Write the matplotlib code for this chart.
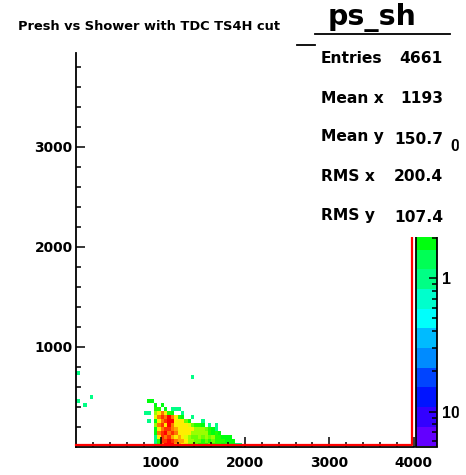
import colorsys
import numpy as np
import matplotlib
matplotlib.use('Agg')
import matplotlib.pyplot as plt
from matplotlib.colors import ListedColormap, BoundaryNorm
from matplotlib.ticker import FixedLocator, FixedFormatter, LogLocator, NullFormatter
from matplotlib.lines import Line2D
from matplotlib.patches import Rectangle

W, H = 466, 475

# 2D histogram binning: 40 x 40 units
x_edges = np.arange(0, 4001, 40)
y_edges = np.arange(0, 4001, 40)

# main cluster, counts per bin; columns start at x bin 20, rows start at y bin 0
cluster_k0 = 20
cluster_rows = [
    [0, 0, 0, 1, 3, 22, 40, 45, 35, 16, 16, 11, 8, 5, 5, 4, 3, 3, 3, 4, 3, 3, 3, 2, 3, 2, 2, 1, 1, 0],
    [0, 0, 0, 1, 3, 25, 30, 45, 30, 22, 16, 14, 11, 6, 5, 4, 4, 3, 4, 3, 4, 3, 3, 3, 2, 2, 2, 0, 0, 0],
    [0, 0, 0, 1, 12, 25, 22, 30, 16, 12, 14, 11, 8, 6, 4, 4, 6, 4, 5, 4, 5, 3, 3, 2, 2, 2, 0, 0, 0, 0],
    [0, 0, 0, 2, 18, 25, 40, 22, 25, 20, 12, 11, 12, 9, 6, 5, 6, 5, 5, 3, 2, 3, 2, 0, 0, 0, 0, 0, 0, 0],
    [0, 0, 0, 2, 12, 20, 25, 25, 20, 14, 12, 12, 10, 9, 12, 6, 5, 6, 4, 3, 2, 1, 0, 0, 0, 0, 0, 0, 0, 0],
    [0, 0, 0, 5, 18, 25, 12, 35, 20, 12, 10, 12, 9, 8, 4, 3, 3, 2, 0, 1, 0, 1, 0, 0, 0, 0, 0, 0, 0, 0],
    [0, 1, 0, 2, 12, 20, 25, 45, 35, 12, 10, 9, 4, 2, 0, 0, 0, 1, 0, 0, 0, 0, 0, 0, 0, 0, 0, 0, 0, 0],
    [0, 0, 0, 8, 18, 25, 18, 40, 18, 12, 3, 2, 0, 0, 1, 0, 0, 0, 0, 0, 0, 0, 0, 0, 0, 0, 0, 0, 0, 0],
    [1, 1, 0, 5, 12, 18, 9, 3, 2, 0, 0, 1, 0, 0, 0, 0, 0, 0, 0, 0, 0, 0, 0, 0, 0, 0, 0, 0, 0, 0],
    [0, 0, 0, 3, 3, 0, 2, 0, 1, 1, 1, 0, 0, 0, 0, 0, 0, 0, 0, 0, 0, 0, 0, 0, 0, 0, 0, 0, 0, 0],
    [0, 0, 0, 2, 0, 2, 0, 0, 0, 0, 0, 0, 0, 0, 0, 0, 0, 0, 0, 0, 0, 0, 0, 0, 0, 0, 0, 0, 0, 0],
    [0, 2, 2, 0, 0, 0, 0, 0, 0, 0, 0, 0, 0, 0, 0, 0, 0, 0, 0, 0, 0, 0, 0, 0, 0, 0, 0, 0, 0, 0],
]
# isolated single entries (x bin, y bin)
lone_bins = [(0, 18), (0, 11), (2, 10), (4, 12), (34, 17)]

# red outline drawn over the histogram
red_x = [0, 3980, 3980]
red_y = [15, 15, 3935]

# stats box
stat_names = ['Entries', 'Mean x', 'Mean y', 'RMS x', 'RMS y']
stat_values = ['4661', '1193', '150.7', '200.4', '107.4']

# z axis (log) range and palette ticks
z_min, z_max = 10 ** -1.262, 10 ** 1.69
z_ticks = [0.1, 1, 10]
z_labels = ['10\u207b\u00b9', '1', '10']

counts = np.zeros((len(y_edges) - 1, len(x_edges) - 1))
for j, row in enumerate(cluster_rows):
    counts[j, cluster_k0:cluster_k0 + len(row)] = row
for k, j in lone_bins:
    counts[j, k] = 1
counts = np.ma.masked_equal(counts, 0)

# ROOT-like palette: 50 hues sampled at 20 contour levels
n_levels = 20
levels = np.logspace(np.log10(z_min), np.log10(z_max), n_levels + 1)
colors = []
for i in range(n_levels):
    idx = int((i + 0.99) * 50 / n_levels)
    hue = 280 - (idx + 1) * 280 / 50
    colors.append(colorsys.hls_to_rgb(hue / 360, 0.5, 1.0))
cmap = ListedColormap(colors)
norm = BoundaryNorm(levels, n_levels)


def px(x0, y0, x1, y1):
    return [x0 / W, 1 - y1 / H, (x1 - x0) / W, (y1 - y0) / H]


fig = plt.figure(figsize=(W / 100, H / 100), dpi=100)
fig.patch.set_facecolor('white')

# main frame
ax = fig.add_axes(px(76.4, 53, 413.6, 446.5))
ax.pcolormesh(x_edges, y_edges, counts, cmap=cmap, norm=norm)
ax.plot(red_x, red_y, color='#ff0000', lw=1.6, zorder=3, clip_on=False)
ax.set_xlim(0, 4000)
ax.set_ylim(0, 3935)
for s in ['top', 'right']:
    ax.spines[s].set_visible(False)
for s in ['left', 'bottom']:
    ax.spines[s].set_linewidth(1.3)
ax.xaxis.set_major_locator(FixedLocator([1000, 2000, 3000, 4000]))
ax.yaxis.set_major_locator(FixedLocator([1000, 2000, 3000]))
ax.xaxis.set_minor_locator(FixedLocator(np.arange(200, 4000, 200)))
ax.yaxis.set_minor_locator(FixedLocator(np.arange(200, 3935, 200)))
ax.tick_params(axis='x', which='major', direction='in', length=7.5, width=1.1, pad=6.5)
ax.tick_params(axis='y', which='major', direction='in', length=6.5, width=1.1, pad=2.7)
ax.tick_params(which='minor', direction='in', length=3.5, width=1.1)
for lab in ax.get_xticklabels() + ax.get_yticklabels():
    lab.set_fontweight('bold')
    lab.set_fontsize(9.9)

# palette
ax_pal = fig.add_axes(px(415.5, 53, 436.5, 446.5))
mids = np.sqrt(levels[:-1] * levels[1:]).reshape(-1, 1)
ax_pal.pcolormesh([0, 1], levels, mids, cmap=cmap, norm=norm)
ax_pal.set_yscale('log')
ax_pal.set_ylim(z_min, z_max)
ax_pal.set_xlim(0, 1)
ax_pal.set_xticks([])
ax_pal.yaxis.tick_right()
ax_pal.yaxis.set_major_locator(FixedLocator(z_ticks))
ax_pal.yaxis.set_major_formatter(FixedFormatter(z_labels))
ax_pal.yaxis.set_minor_locator(LogLocator(subs=range(2, 10)))
ax_pal.yaxis.set_minor_formatter(NullFormatter())
ax_pal.tick_params(axis='y', which='major', direction='in', length=6, width=1.1, pad=4)
ax_pal.tick_params(axis='y', which='minor', direction='in', length=3.5, width=1.1)
for s in ax_pal.spines.values():
    s.set_linewidth(1.3)
for lab in ax_pal.get_yticklabels():
    lab.set_fontweight('bold')
    lab.set_fontsize(11.5)
    lab.set_family(['Liberation Sans', 'DejaVu Sans'])

# stats box (covers the top of the palette)
ax_st = fig.add_axes(px(315, 34, 450.5, 236.5), zorder=5)
ax_st.set_facecolor('white')
ax_st.set_xticks([])
ax_st.set_yticks([])
for s in ax_st.spines.values():
    s.set_visible(False)

fig.text(18 / W, 1 - 26.7 / H, 'Presh vs Shower with TDC TS4H cut', fontsize=9.4,
         fontweight='bold', ha='left', va='center')
fig.text(372 / W, 1 - 24.5 / H, 'ps_sh', fontsize=20.5, fontweight='bold',
         ha='center', va='baseline', zorder=10)
fig.add_artist(Line2D([315 / W, 450 / W], [1 - 33.5 / H] * 2, color='black', lw=1.3, zorder=10))
fig.add_artist(Line2D([297 / W, 315 / W], [1 - 44.5 / H] * 2, color='black', lw=1.3, zorder=10))

name_y = [58.3, 98.3, 136.7, 176.7, 215.5]
value_y = [58.3, 98.3, 140, 176.7, 218]
for name, val, ny, vy in zip(stat_names, stat_values, name_y, value_y):
    fig.text(321 / W, 1 - ny / H, name, fontsize=11.2, fontweight='bold',
             ha='left', va='center', zorder=10)
    fig.text(443 / W, 1 - vy / H, val, fontsize=11.2, fontweight='bold',
             ha='right', va='center', zorder=10)

# right margin of the canvas
fig.add_artist(Rectangle((459 / W, 0), 7 / W, 1, transform=fig.transFigure,
                         color='white', zorder=10))

fig.savefig('out.png', dpi=100)
